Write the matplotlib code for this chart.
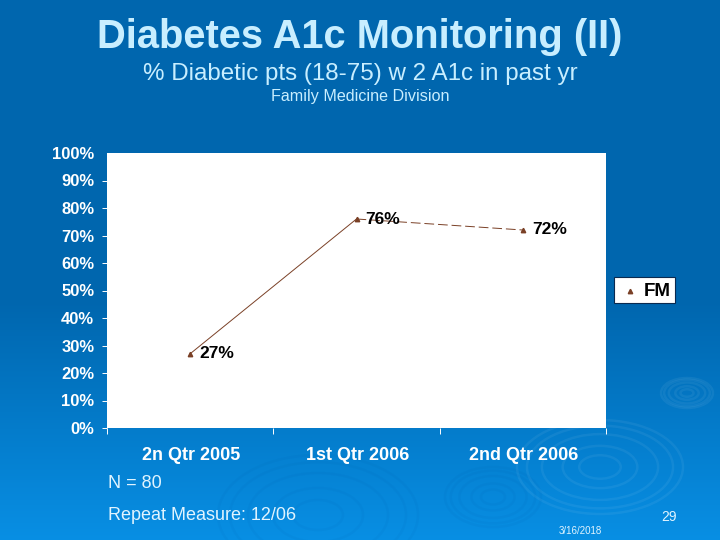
import numpy as np
import matplotlib
matplotlib.use('Agg')
import matplotlib.pyplot as plt
from matplotlib.patches import Ellipse, Rectangle

plt.rcParams['font.family'] = ['Liberation Sans', 'DejaVu Sans']

quarters = ['2n Qtr 2005', '1st Qtr 2006', '2nd Qtr 2006']
fm_values = [27, 76, 72]
fm_labels = ['27%', '76%', '72%']
y_ticks = [0, 10, 20, 30, 40, 50, 60, 70, 80, 90, 100]

W, H = 720, 540
brown = '#7a4026'
light = '#c8eeff'

fig = plt.figure(figsize=(7.2, 5.4), dpi=100)

# slide background, pixel coords
bg = fig.add_axes([0, 0, 1, 1])
bg.set_xlim(0, W)
bg.set_ylim(H, 0)
bg.axis('off')
grad = np.zeros((H, 1, 3))
top = np.array([0, 102, 174]) / 255
bottom = np.array([8, 143, 228]) / 255
for i in range(H):
    t = max(0, (i - 300) / (H - 300))
    grad[i, 0] = top + (bottom - top) * t
bg.imshow(grad, extent=[0, W, H, 0], aspect='auto')

# ripples
for cx, cy, rx, ry, c in [(318, 515, 100, 60, '#004f9e'),
                          (600, 467, 83, 47, '#ffffff'),
                          (493, 497, 48, 30, '#004f9e'),
                          (687, 393, 26, 15, '#ffffff')]:
    for f in [0.25, 0.45, 0.7, 0.88, 1.0]:
        bg.add_patch(Ellipse((cx, cy), 2 * rx * f, 2 * ry * f, fill=False,
                             ec=c, alpha=0.06, lw=1.8))

# main chart
ax = fig.add_axes([107 / W, 1 - 428 / H, 499 / W, 275 / H])
ax.set_facecolor('white')
x = np.arange(len(quarters))
ax.plot(x[:2], fm_values[:2], color=brown, lw=0.7, zorder=2)
ax.plot(x[1:], fm_values[1:], color=brown, lw=0.7, ls=(0, (10, 4)), zorder=2)
ax.plot(x, fm_values, ls='none', marker='^', ms=3.2, color=brown, zorder=3)
for xi, v, lab in zip(x, fm_values, fm_labels):
    ax.annotate(lab, (xi, v), xytext=(6.5, 0), textcoords='offset points',
                fontsize=12.5, fontweight='bold', color='black', va='center',
                ha='left', zorder=4)

ax.set_xlim(-0.5, 2.5)
ax.set_ylim(0, 100)
ax.set_xticks([-0.5, 0.5, 1.5, 2.5])
ax.set_xticklabels([])
ax.set_yticks(y_ticks)
ax.set_yticklabels(['{}%'.format(v) for v in y_ticks], fontsize=12,
                   fontweight='bold', color='white')
ax.tick_params(axis='y', colors='white', length=3.6, width=0.7, pad=5.5,
               labelcolor='white')
ax.tick_params(axis='x', colors='white', length=4, width=0.7)
ax.yaxis.get_major_ticks()[-1].tick1line.set_visible(False)
for s in ax.spines.values():
    s.set_visible(False)
for xi, q in zip(x, quarters):
    ax.annotate(q, (xi, 0), xytext=(0.5, -20), textcoords='offset points',
                ha='center', va='center', fontsize=13, fontweight='bold',
                color='white')

# legend box
bg.add_patch(Rectangle((614, 277), 61, 26, fc='white', ec='#0a2a50', lw=0.8))
bg.plot([629.5], [291], marker='^', ms=3.2, color=brown, ls='none', zorder=5)
bg.text(644, 291.5, 'FM', fontsize=13.5, fontweight='bold', color='black',
        va='center', ha='left')

# slide text
bg.text(360, 36.5, 'Diabetes A1c Monitoring (II)', fontsize=28.7, fontweight='bold',
        color=light, ha='center', va='center')
bg.text(360, 74, '% Diabetic pts (18-75) w 2 A1c in past yr', fontsize=17.4,
        color=light, ha='center', va='center')
bg.text(360, 97, 'Family Medicine Division', fontsize=11.6, color=light,
        ha='center', va='center')
bg.text(108, 483, 'N = 80', fontsize=13, color='#e0f4ff', ha='left', va='center')
bg.text(108, 515, 'Repeat Measure: 12/06', fontsize=13, color='#e0f4ff', ha='left',
        va='center')
bg.text(669, 517, '29', fontsize=10, color='#e0f4ff', ha='center', va='center')
bg.text(580, 531, '3/16/2018', fontsize=7, color='#e0f4ff', ha='center',
        va='center')

fig.savefig('out.png', dpi=100)
